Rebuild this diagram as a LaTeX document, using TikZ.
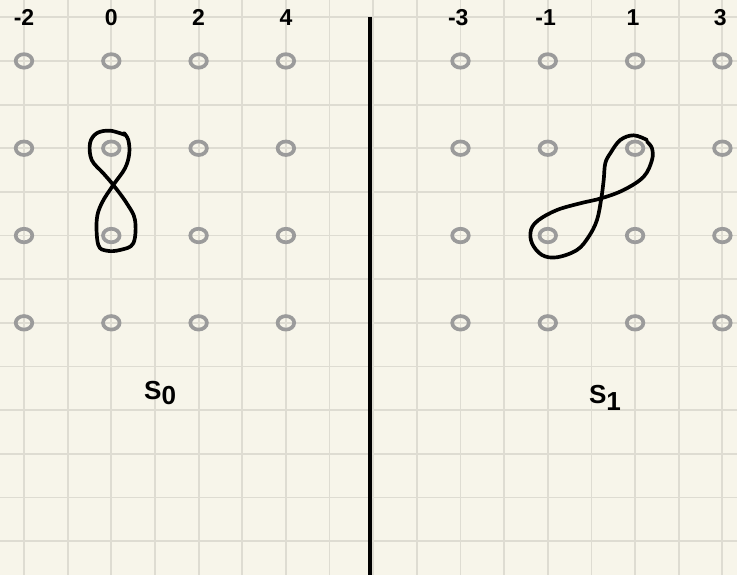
\documentclass[tikz,border=0pt]{standalone}
\usepackage{fontspec}
\setmainfont{Liberation Sans}
\usetikzlibrary{shapes.geometric}
\definecolor{paper}{HTML}{F7F5EA}
\definecolor{gridc}{HTML}{DEDCD2}
\definecolor{dotgray}{HTML}{9B9B9B}
\tikzset{
  gridline/.style={draw=gridc,line width=1.2pt},
  latdot/.style={ellipse,draw=dotgray,line width=2.4pt,
    minimum width=0.38cm,minimum height=0.31cm,inner sep=0pt},
  axlabel/.style={font=\fontsize{15}{17}\selectfont\bfseries,inner sep=0pt},
  statelabel/.style={font=\fontsize{17}{19}\selectfont\bfseries,inner sep=0pt},
  eight/.style={draw=black,line width=2.4pt,line cap=round,line join=round},
  divider/.style={draw=black,line width=2.8pt},
}

\begin{document}
\begin{tikzpicture}

  % paper and grid
  \fill[paper] (-0.55,-12.777) rectangle (16.335,0.396);
  \useasboundingbox (-0.55,-12.777) rectangle (16.335,0.396);
  \foreach \k in {0,...,16}
    \draw[gridline] (\k,-12.777) -- (\k,0.396);
  \foreach \j in {0,...,12}
    \draw[gridline] (-0.55,-\j) -- (16.335,-\j);

  % lattice points
  \foreach \k in {0,2,4,6,10,12,14,16}
    \foreach \j in {1,3,5,7}
      \node[latdot] (d\k-\j) at (\k,-\j) {};

  % column labels, left
  \foreach \k/\t in {0/-2,2/0,4/2,6/4}
    \node[axlabel] (tl\k) at (\k,0) {\t};

  % column labels, right
  \foreach \k/\t in {10/-3,12/-1,14/1,16/3}
    \node[axlabel] (tr\k) at (\k-0.05,0) {\t};

  % divider
  \coordinate (divtop) at (7.93,0);
  \coordinate (divbot) at (7.93,-12.777);
  \draw[divider] (divtop) -- (divbot);

  % figure eight, left
  \draw[eight] plot[smooth,tension=0.6] coordinates {
    (2.314,-2.696) (1.970,-2.598) (1.666,-2.657) (1.512,-2.887)
    (1.551,-3.269) (1.817,-3.574) (2.046,-3.842) (2.353,-4.261)
    (2.543,-4.644) (2.504,-5.178) (2.199,-5.331) (1.895,-5.347)
    (1.702,-5.216) (1.666,-4.644) (1.780,-4.261) (2.046,-3.842)
    (2.314,-3.459) (2.412,-3.116) (2.389,-2.811) (2.291,-2.651)};

  % figure eight, right
  \draw[eight] plot[smooth,tension=0.6] coordinates {
    (14.273,-2.811) (13.968,-2.704) (13.661,-2.811) (13.432,-3.116)
    (13.317,-3.345) (13.281,-3.727) (13.226,-4.147) (13.127,-4.644)
    (12.937,-5.026) (12.669,-5.331) (12.211,-5.498) (11.867,-5.446)
    (11.638,-5.178) (11.615,-4.873) (11.791,-4.644) (12.211,-4.415)
    (12.745,-4.261) (13.226,-4.147) (13.739,-3.956) (14.197,-3.652)
    (14.387,-3.269) (14.387,-3.001) (14.273,-2.850)};

  % state names
  \node[statelabel] (s0) at (3.12,-8.61) {S\raisebox{-3pt}{0}};
  \node[statelabel] (s1) at (13.31,-8.72) {S\raisebox{-5pt}{1}};

\end{tikzpicture}
\end{document}
